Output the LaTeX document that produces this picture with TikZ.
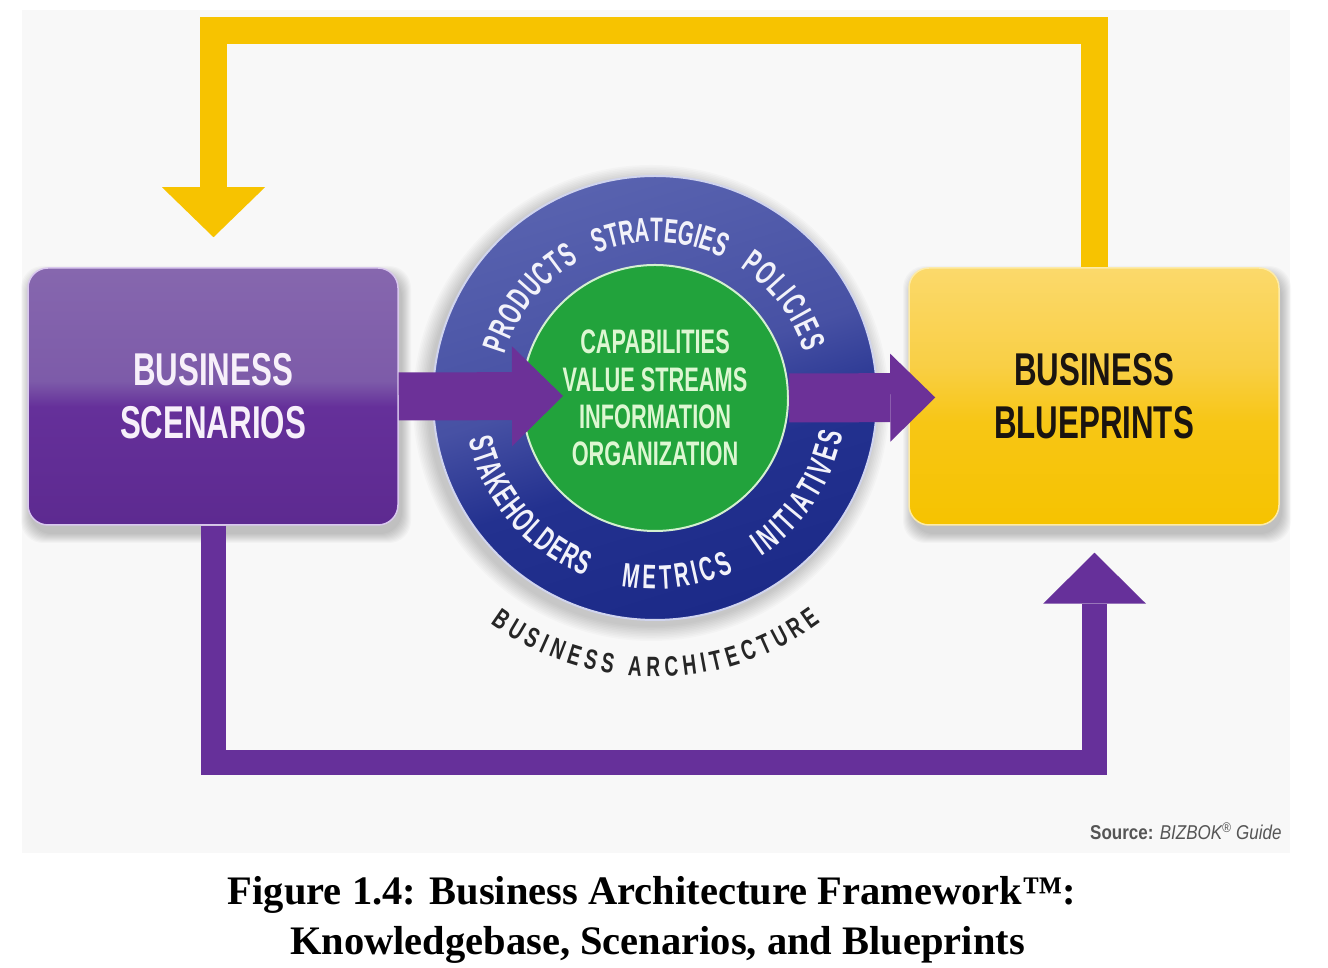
\documentclass[tikz,border=0pt]{standalone}
\usepackage{fontspec}
\usetikzlibrary{arrows.meta,calc,decorations.text}
\newfontfamily\cf{Liberation Sans}[FakeStretch=0.68]
\newfontfamily\gf{Liberation Sans}[FakeStretch=0.64]
\newfontfamily\rf{Liberation Sans}[FakeStretch=0.6]
\newfontfamily\srcfont{Liberation Sans}[FakeStretch=0.85]
\newfontfamily\capfont{Liberation Serif}

\definecolor{bgc}{HTML}{F8F8F8}
\definecolor{yellowc}{HTML}{F7C300}
\definecolor{ploopc}{HTML}{66309A}
\definecolor{pbar}{HTML}{6C3198}
\definecolor{ptop}{HTML}{8667AE}
\definecolor{pmidb}{HTML}{7D5BA9}
\definecolor{pmida}{HTML}{65309A}
\definecolor{pbot}{HTML}{5D2A90}
\definecolor{pedge}{HTML}{D9C8EE}
\definecolor{ytop}{HTML}{FBD96B}
\definecolor{ymidb}{HTML}{F9CF45}
\definecolor{ymida}{HTML}{F7C615}
\definecolor{ybot}{HTML}{F6C300}
\definecolor{yedge}{HTML}{FDEBA8}
\definecolor{rtop}{HTML}{5862AF}
\definecolor{rmid}{HTML}{4751A4}
\definecolor{rdk}{HTML}{23318F}
\definecolor{rbot}{HTML}{1C2A88}
\definecolor{ringedge}{HTML}{D0D4EE}
\definecolor{greenc}{HTML}{22A33C}
\definecolor{greenedge}{HTML}{D4F0D0}
\definecolor{gtext}{HTML}{DDF7D2}
\definecolor{ringtxt}{HTML}{F2F2FA}
\definecolor{batxt}{HTML}{262626}
\definecolor{ptext}{HTML}{F7F0FA}
\definecolor{ytext}{HTML}{1A1410}
\definecolor{srcgray}{HTML}{555555}

\pgfdeclareverticalshading{pshade}{100bp}{color(0bp)=(pbot); color(25bp)=(pbot); color(48bp)=(pmida); color(53bp)=(pmidb); color(75bp)=(ptop); color(100bp)=(ptop)}
\pgfdeclareverticalshading{yshade}{100bp}{color(0bp)=(ybot); color(25bp)=(ybot); color(45bp)=(ymida); color(56bp)=(ymidb); color(75bp)=(ytop); color(100bp)=(ytop)}
\pgfdeclareverticalshading{rshade}{100bp}{color(0bp)=(rbot); color(25bp)=(rbot); color(42bp)=(rdk); color(53bp)=(rmid); color(75bp)=(rtop); color(100bp)=(rtop)}

\pgfdeclarelayer{back}
\pgfdeclarelayer{bg}
\pgfsetlayers{back,bg,main}

\tikzset{
  box/.style={rectangle, rounded corners=20pt, minimum width=370pt, minimum height=257pt,
    line width=1.5pt, align=center, inner sep=0pt,
    font=\cf\bfseries\fontsize{46}{53}\selectfont},
  yloop/.style={line width=27pt, yellowc, -{Triangle[length=50pt, width=103pt, line width=0pt]}},
  ploop/.style={line width=25pt, ploopc, -{Triangle[length=51pt, width=103pt, line width=0pt]}},
  larrow/.style={line width=48pt, pbar, -{Triangle[length=51pt, width=100pt, line width=0pt]}},
  rarrow/.style={line width=49pt, pbar, -{Triangle[length=45pt, width=88pt, line width=0pt]}},
  ringtext/.style={decorate, decoration={text along path, text={|\rf\bfseries\fontsize{34}{34}\selectfont|#1},
    text align={fit to path}, text color=ringtxt}},
  archtext/.style={decorate, decoration={text along path, text={|\cf\bfseries\fontsize{28}{28}\selectfont|#1},
    text align={fit to path}, text color=batxt}}
}

\begin{document}
\begin{tikzpicture}[x=1pt, y=1pt]
\useasboundingbox (0,0) rectangle (1328,968);

\begin{pgfonlayer}{back}
  \fill[white] (0,0) rectangle (1328,968);
  \fill[bgc] (22,115) rectangle (1290,958);
\end{pgfonlayer}

% boxes
\node[box, shade, shading=pshade, draw=pedge, text=ptext] (scen) at (213,571.5) {BUSINESS\\SCENARIOS};
\node[box, shade, shading=yshade, draw=yedge, text=ytext] (bp) at (1094,571.5) {BUSINESS\\BLUEPRINTS};

% ring
\node[circle, minimum size=444pt, inner sep=0pt, shade, shading=rshade, shading angle=17,
      draw=ringedge, line width=2pt] (arch) at (655,570) {};

% shadows and loops
\begin{pgfonlayer}{bg}
  \foreach \k in {1,...,10} {
    \fill[black, opacity=0.022, rounded corners=22pt] (31-\k,435-\k) rectangle (401+\k,692+\k);
    \fill[black, opacity=0.022, rounded corners=22pt] (913-\k,435-\k) rectangle (1281+\k,692+\k);
    \fill[black, opacity=0.02] (651,565) circle (222+\k*1.6);
  }
  \draw[yloop] (bp.north) -- ++(0,237) -| ($(scen.north)+(0.5,30)$);
  \draw[ploop] (scen.south) |- ($(bp.south)+(0.5,-237)$) -- ($(bp.south)+(0.5,-27)$);
\end{pgfonlayer}

% core
\node[circle, minimum size=266pt, inner sep=0pt, fill=greenc, draw=greenedge, line width=2pt,
      text=gtext, align=center, font=\gf\bfseries\fontsize{34}{37.3}\selectfont] (core) at (655,570)
      {CAPABILITIES\\VALUE STREAMS\\INFORMATION\\ORGANIZATION};

% arrows through the framework
\coordinate (ltip) at (563,572);
\draw[rarrow] (core.east) -- ($(bp.west)+(27,-1)$);
\draw[larrow] (scen.east) -- (ltip);

% ring texts (upper: clockwise, lower: counter-clockwise)
\path[ringtext=PRODUCTS] ($(arch.center)+(164:156)$) arc[start angle=164, end angle=119, radius=156];
\path[ringtext=STRATEGIES] ($(arch.center)+(112:156)$) arc[start angle=112, end angle=65, radius=156];
\path[ringtext=POLICIES] ($(arch.center)+(57:156)$) arc[start angle=57, end angle=17, radius=156];
\path[ringtext=STAKEHOLDERS] ($(arch.center)+(192.5:191)$) arc[start angle=192.5, end angle=248.5, radius=191];
\path[ringtext=METRICS] ($(arch.center)+(260:191)$) arc[start angle=260, end angle=294.5, radius=191];
\path[ringtext=INITIATIVES] ($(arch.center)+(304:191)$) arc[start angle=304, end angle=349.5, radius=191];
\path[archtext={BUSINESS ARCHITECTURE}] ($(arch.center)+(234:279)$) arc[start angle=234, end angle=306.5, radius=279];

% source
\node[anchor=base west, inner sep=0pt, text=srcgray, font=\srcfont\fontsize{20}{20}\selectfont] (src) at (1090,128)
  {{\bfseries Source:} {\itshape BIZBOK\textsuperscript{®} Guide}};

% caption
\node[anchor=base, inner sep=0pt, font=\capfont\bfseries\fontsize{40.5}{50}\selectfont] (cap1) at (652,63)
  {Figure 1.4: Business Architecture Framework™:};
\node[anchor=base, inner sep=0pt, font=\capfont\bfseries\fontsize{40.5}{50}\selectfont] (cap2) at (657.5,13)
  {Knowledgebase, Scenarios, and Blueprints};
\end{tikzpicture}
\end{document}
